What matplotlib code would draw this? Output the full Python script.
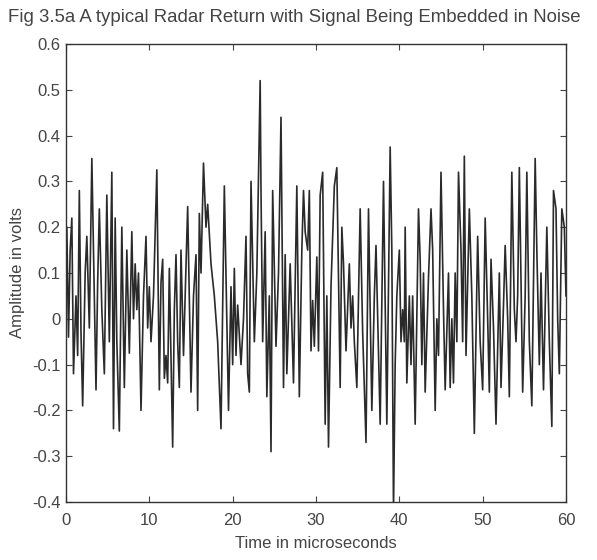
import matplotlib
matplotlib.use("Agg")
import matplotlib.pyplot as plt
import numpy as np

plt.rcParams['font.family'] = ['Liberation Sans', 'DejaVu Sans']

# turning points of the noisy return (microseconds, volts)
t_us = [0.0, 0.1, 0.3, 0.5, 0.7, 0.9, 1.2, 1.4, 1.6, 1.8, 2.0, 2.3, 2.5, 2.8, 3.1, 3.4, 3.6, 3.8,
        4.0, 4.3, 4.6, 4.9, 5.2, 5.5, 5.7, 5.9, 6.1, 6.4, 6.7, 7.0, 7.3, 7.6, 7.9, 8.1, 8.3, 8.5,
        8.7, 9.0, 9.3, 9.6, 9.8, 10.0, 10.2, 10.5, 10.9, 11.2, 11.4, 11.6, 11.8, 12.0, 12.2, 12.4,
        12.8, 13.0, 13.2, 13.4, 13.6, 13.8, 14.1, 14.3, 14.6, 15.0, 15.3, 15.6, 15.8, 16.0, 16.2,
        16.5, 16.8, 17.0, 17.4, 17.8, 18.2, 18.6, 19.0, 19.5, 19.8, 20.0, 20.2, 20.4, 20.6, 21.0,
        21.3, 21.6, 21.8, 22.0, 22.2, 22.6, 22.9, 23.3, 23.4, 23.6, 23.9, 24.1, 24.4, 24.6, 24.8,
        25.2, 25.5, 25.8, 26.1, 26.3, 26.5, 26.9, 27.3, 27.7, 28.0, 28.3, 28.5, 28.7, 29.0, 29.2,
        29.4, 29.6, 29.8, 30.1, 30.3, 30.5, 30.8, 31.1, 31.3, 31.5, 31.8, 32.2, 32.5, 32.9, 33.1,
        33.3, 33.6, 34.0, 34.2, 34.4, 34.6, 34.9, 35.3, 35.6, 36.0, 36.3, 36.7, 37.0, 37.2, 37.7,
        38.1, 38.5, 38.9, 39.1, 39.3, 39.5, 39.7, 40.0, 40.2, 40.4, 40.6, 40.7, 40.9, 41.2, 41.4,
        41.6, 41.9, 42.3, 42.5, 42.7, 42.9, 43.1, 43.5, 43.8, 44.0, 44.3, 44.5, 44.7, 45.0, 45.3,
        45.5, 45.9, 46.1, 46.3, 46.5, 46.7, 46.9, 47.1, 47.4, 47.6, 47.8, 48.0, 48.4, 48.7, 49.0,
        49.4, 49.7, 50.0, 50.3, 50.6, 50.8, 51.0, 51.3, 51.6, 52.0, 52.2, 52.5, 52.7, 53.0, 53.2,
        53.5, 53.8, 54.0, 54.2, 54.4, 54.8, 55.1, 55.3, 55.6, 55.9, 56.3, 56.5, 56.8, 57.0, 57.3,
        57.7, 58.0, 58.3, 58.5, 58.8, 59.0, 59.2, 59.5, 59.8, 60.0]
volts = [0.02, 0.2, -0.04, 0.15, 0.22, -0.12, 0.05, -0.08, 0.28, -0.03, -0.19, 0.1, 0.18, -0.02,
         0.35, 0.05, -0.155, 0.08, 0.24, 0.02, -0.12, 0.27, -0.05, 0.32, -0.24, 0.22, -0.05,
         -0.245, 0.2, -0.15, 0.15, -0.075, 0.19, 0.0, 0.12, 0.02, 0.1, -0.2, 0.05, 0.18, -0.02,
         0.07, -0.05, 0.05, 0.325, -0.155, 0.08, 0.13, -0.13, -0.08, -0.14, 0.11, -0.28, 0.02,
         0.14, -0.05, -0.15, 0.15, -0.08, 0.05, 0.245, -0.16, 0.05, 0.14, -0.2, 0.23, 0.1, 0.34,
         0.2, 0.25, 0.12, 0.05, -0.05, -0.24, 0.29, -0.2, 0.07, -0.1, 0.11, -0.08, 0.03, -0.1,
         0.0, 0.18, -0.12, -0.16, 0.3, -0.05, 0.1, 0.52, 0.28, -0.05, 0.19, -0.17, 0.05, -0.29,
         0.28, -0.06, 0.1, 0.44, -0.15, 0.14, -0.12, 0.12, -0.14, 0.29, -0.17, 0.15, 0.28, 0.19,
         0.15, 0.28, -0.07, 0.04, -0.06, 0.135, -0.07, 0.27, 0.32, -0.23, 0.05, -0.28, 0.07, 0.29,
         0.33, -0.15, 0.2, 0.12, -0.07, 0.12, -0.02, 0.05, -0.05, -0.15, 0.24, -0.03, -0.27, 0.24,
         -0.2, 0.05, 0.16, -0.23, 0.3, -0.23, 0.375, 0.15, -0.42, -0.1, 0.05, 0.15, -0.05, 0.02,
         -0.05, 0.2, -0.14, 0.05, -0.1, 0.05, -0.23, 0.24, 0.13, -0.1, 0.1, -0.16, 0.09, 0.24,
         0.15, -0.2, 0.0, -0.08, 0.32, 0.02, -0.155, 0.1, -0.15, 0.0, -0.14, 0.1, -0.05, 0.32,
         0.15, -0.05, 0.355, -0.08, 0.24, 0.05, -0.25, 0.18, -0.05, -0.155, 0.22, 0.0, -0.16, 0.13,
         -0.02, -0.23, 0.1, -0.15, 0.03, 0.16, 0.0, -0.17, 0.32, 0.02, -0.05, 0.05, 0.33, -0.16,
         0.05, 0.32, -0.05, -0.19, 0.35, 0.15, -0.1, 0.1, -0.155, 0.2, -0.05, -0.235, 0.28, 0.24,
         0.0, -0.12, 0.24, 0.2, 0.05]

y_ticks = [-0.4, -0.3, -0.2, -0.1, 0, 0.1, 0.2, 0.3, 0.4, 0.5, 0.6]
y_labels = ['-0.4', '-0.3', '-0.2', '-0.1', '0', '0.1', '0.2', '0.3', '0.4', '0.5', '0.6']
x_ticks = [0, 10, 20, 30, 40, 50, 60]

fig = plt.figure(figsize=(5.97, 5.6), dpi=100)
ax = fig.add_axes([66/597, 1-502/560, 500/597, 458/560])
ax.plot(t_us, volts, '-', color='#2a2a2a', lw=1.2)
ax.set_xlim(0, 60)
ax.set_ylim(-0.4, 0.6)
ax.set_xticks(x_ticks)
ax.set_yticks(y_ticks)
ax.set_yticklabels(y_labels)
ax.tick_params(direction='in', length=4, top=True, right=True, labelsize=12,
               colors='#444444')
ax.tick_params(axis='x', pad=8)
ax.tick_params(axis='y', pad=4)
for s in ax.spines.values():
    s.set_color('#333333')
    s.set_linewidth(1.0)
ax.set_xlabel('Time in microseconds', fontsize=12, color='#444444', labelpad=6)
ax.set_ylabel('Amplitude in volts', fontsize=12, color='#444444', labelpad=5)
fig.text(8/597, 1-22/560, 'Fig 3.5a A typical Radar Return with Signal Being Embedded in Noise',
         fontsize=13.4, color='#444444', ha='left', va='baseline')

plt.savefig('out.png', dpi=100)
